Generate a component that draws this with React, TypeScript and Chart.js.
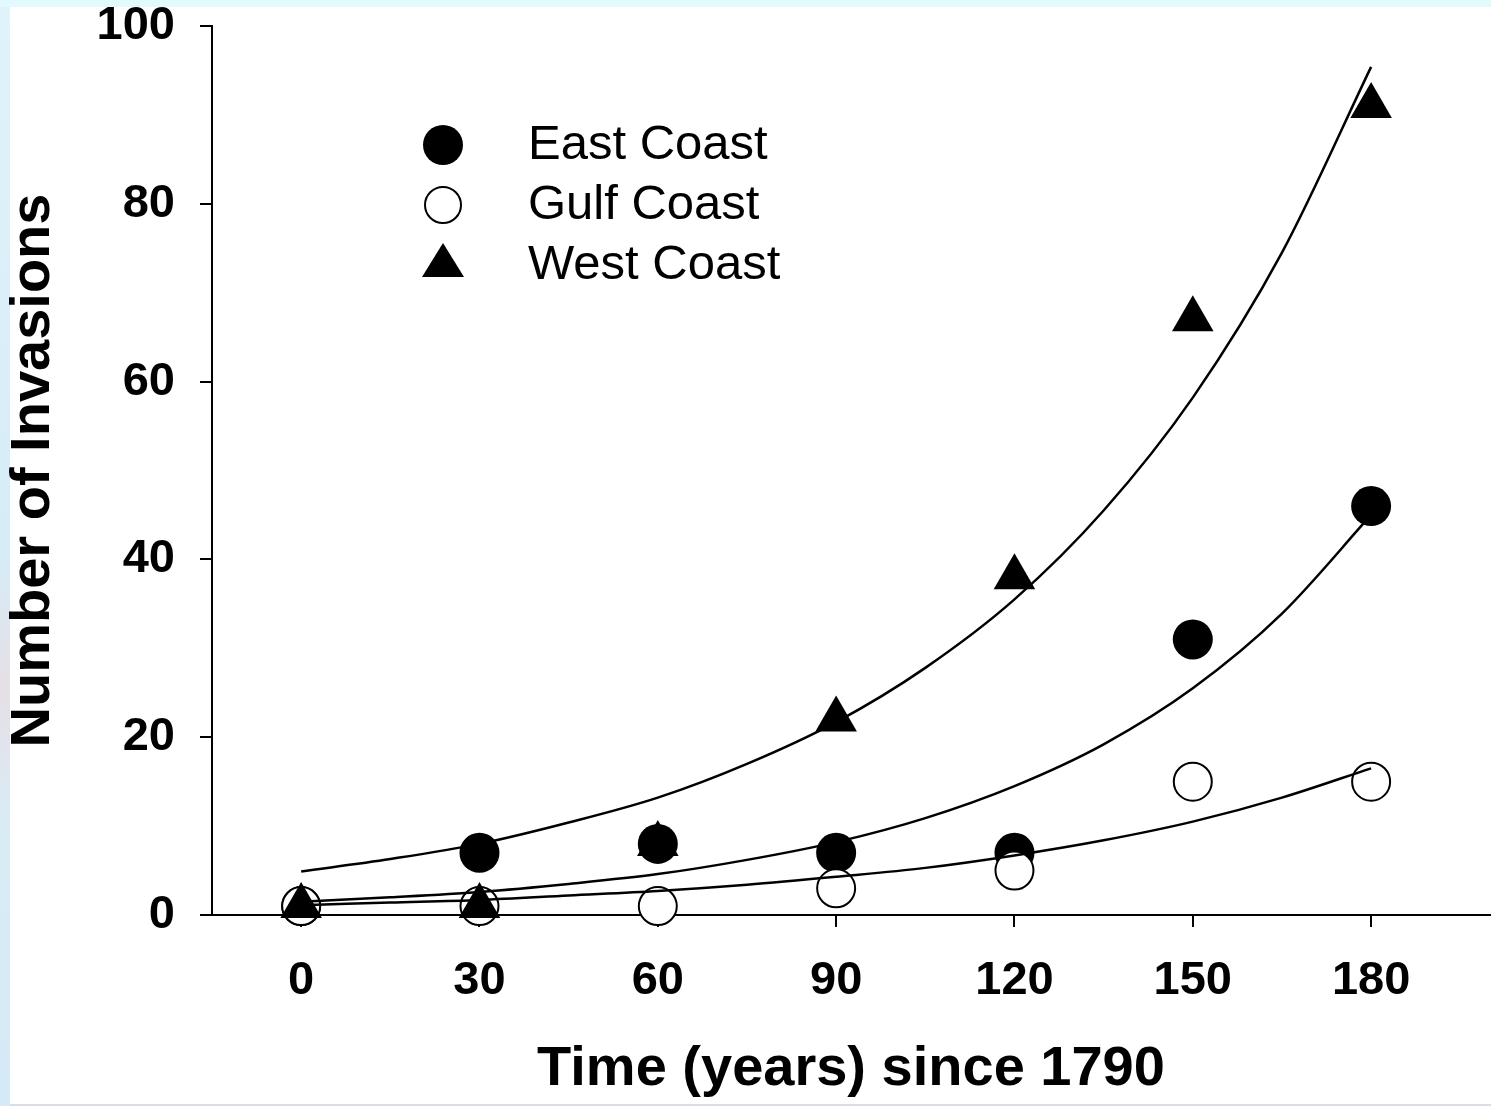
import React, { useEffect, useRef } from "react";
import { Chart, registerables } from "chart.js";

Chart.register(...registerables);

// Observed data (years since 1790)
const years = [0, 30, 60, 90, 120, 150, 180];
const eastCoast = [1, 7, 8, 7, 7, 31, 46];
const gulfCoast = [1, 1, 1, 3, 5, 15, 15];
const westCoast = [1, 1, 8, 22, 38, 67, 91];

// Fitted curves
const fitYears = [0, 15, 30, 45, 60, 75, 90, 105, 120, 135, 150, 165, 180];
const eastFit = [1.5, 2.0, 2.6, 3.5, 4.6, 6.2, 8.2, 10.9, 14.5, 19.2, 25.5, 33.9, 45.0];
const gulfFit = [1.1, 1.4, 1.7, 2.2, 2.7, 3.4, 4.3, 5.3, 6.7, 8.4, 10.5, 13.2, 16.5];
const westFit = [4.9, 6.3, 8.0, 10.4, 13.2, 17.0, 21.7, 27.8, 35.5, 45.5, 58.2, 74.5, 95.4];

const xTicks = [0, 30, 60, 90, 120, 150, 180];
const yTicks = [0, 20, 40, 60, 80, 100];

const seriesNames = ["East Coast", "Gulf Coast", "West Coast"];

const FONT = "'Liberation Sans', Arial, Helvetica, sans-serif";

const pts = (xs: number[], ys: number[]) => xs.map((x, i) => ({ x, y: ys[i] }));

const legendPlugin = {
  id: "customLegend",
  afterDraw(chart: any) {
    const ctx = chart.ctx as CanvasRenderingContext2D;
    const mx = 443;
    const tx = 528;
    const rows = [145, 205, 265];
    ctx.save();
    ctx.fillStyle = "#000";
    ctx.strokeStyle = "#000";
    ctx.lineWidth = 2;
    ctx.beginPath();
    ctx.arc(mx, rows[0], 20, 0, Math.PI * 2);
    ctx.fill();
    ctx.beginPath();
    ctx.arc(mx, rows[1], 18, 0, Math.PI * 2);
    ctx.fillStyle = "#fff";
    ctx.fill();
    ctx.stroke();
    ctx.fillStyle = "#000";
    ctx.beginPath();
    ctx.moveTo(mx, rows[2] - 22);
    ctx.lineTo(mx + 21, rows[2] + 12);
    ctx.lineTo(mx - 21, rows[2] + 12);
    ctx.closePath();
    ctx.fill();
    ctx.font = `49px ${FONT}`;
    ctx.textBaseline = "middle";
    ctx.textAlign = "left";
    ctx.fillStyle = "#000";
    seriesNames.forEach((n, i) => ctx.fillText(n, tx, rows[i]));
    ctx.restore();
  },
};

export default function App() {
  const ref = useRef<HTMLCanvasElement | null>(null);

  useEffect(() => {
    if (!ref.current) return;
    const fitStyle = {
      type: "line" as const,
      showLine: true,
      borderColor: "#000",
      borderWidth: 2.5,
      pointRadius: 0,
      fill: false,
      tension: 0.4,
      cubicInterpolationMode: "monotone" as const,
      order: 0,
      clip: false as any,
    };
    const chart = new Chart(ref.current, {
      type: "scatter",
      data: {
        datasets: [
          { ...fitStyle, label: "East fit", data: pts(fitYears, eastFit) },
          { ...fitStyle, label: "Gulf fit", data: pts(fitYears, gulfFit) },
          { ...fitStyle, label: "West fit", data: pts(fitYears, westFit) },
          {
            label: seriesNames[2],
            data: pts(years, westCoast),
            pointStyle: "triangle",
            pointRadius: 24,
            backgroundColor: "#000",
            borderColor: "#000",
            borderWidth: 0,
            order: 1,
            clip: false as any,
          },
          {
            label: seriesNames[1],
            data: pts(years, gulfCoast),
            pointStyle: "circle",
            pointRadius: 19,
            backgroundColor: "#fff",
            borderColor: "#000",
            borderWidth: 2,
            order: 2,
            clip: false as any,
          },
          {
            label: seriesNames[0],
            data: pts(years, eastCoast),
            pointStyle: "circle",
            pointRadius: 20,
            backgroundColor: "#000",
            borderColor: "#000",
            borderWidth: 0,
            order: 3,
            clip: false as any,
          },
        ] as any,
      },
      options: {
        animation: false,
        responsive: false,
        events: [],
        layout: { autoPadding: false, padding: { top: 26, right: 1, left: 0, bottom: 0 } },
        plugins: {
          legend: { display: false },
          tooltip: { enabled: false },
          title: { display: false },
        },
        scales: {
          x: {
            type: "linear",
            min: -15,
            max: 200,
            afterBuildTicks: (s: any) => {
              s.ticks = xTicks.map((v) => ({ value: v }));
            },
            afterFit: (s: any) => {
              s.height = 191;
              s.paddingLeft = 0;
              s.paddingRight = 0;
            },
            border: { display: true, color: "#000", width: 2 },
            grid: {
              drawOnChartArea: false,
              drawTicks: true,
              tickLength: 12,
              color: "#000",
              lineWidth: 2,
            },
            ticks: {
              color: "#000",
              padding: 26,
              maxRotation: 0,
              autoSkip: false,
              font: { family: FONT, size: 47, weight: "bold", lineHeight: 1.2 },
            },
            title: {
              display: true,
              text: "Time (years) since 1790",
              color: "#000",
              padding: { top: 0, bottom: 3 },
              font: { family: FONT, size: 56, weight: "bold", lineHeight: 1.2 },
            },
          },
          y: {
            type: "linear",
            min: 0,
            max: 100,
            afterBuildTicks: (s: any) => {
              s.ticks = yTicks.map((v) => ({ value: v }));
            },
            afterFit: (s: any) => {
              s.width = 212;
              s.paddingTop = 0;
              s.paddingBottom = 0;
            },
            border: { display: true, color: "#000", width: 2 },
            grid: {
              drawOnChartArea: false,
              drawTicks: true,
              tickLength: 12,
              color: "#000",
              lineWidth: 2,
            },
            ticks: {
              color: "#000",
              padding: 25,
              autoSkip: false,
              font: { family: FONT, size: 47, weight: "bold", lineHeight: 1.0 },
            },
            title: {
              display: true,
              text: "Number of Invasions",
              color: "#000",
              padding: { top: 0, bottom: 0 },
              font: { family: FONT, size: 56, weight: "bold", lineHeight: 1.2 },
            },
          },
        },
      } as any,
      plugins: [legendPlugin],
    });
    return () => chart.destroy();
  }, []);

  return (
    <div
      style={{
        position: "absolute",
        left: 0,
        top: 0,
        width: 1491,
        height: 1106,
        overflow: "hidden",
        background: "linear-gradient(to bottom, #dff3fb 0%, #d6ecf7 50%, #e6dfe6 62%, #d9ecf6 75%, #d4eaf6 100%)",
      }}
    >
      <div style={{ position: "absolute", left: 0, top: 0, width: 1491, height: 7, background: "#e2f9fd" }} />
      <div style={{ position: "absolute", left: 10, top: 7, width: 1481, height: 1097, background: "#ffffff" }} />
      <div style={{ position: "absolute", left: 10, top: 1104, width: 1481, height: 2, background: "#d9dee4" }} />
      <canvas ref={ref} width={1491} height={1106} style={{ position: "absolute", left: 0, top: 0 }} />
    </div>
  );
}
